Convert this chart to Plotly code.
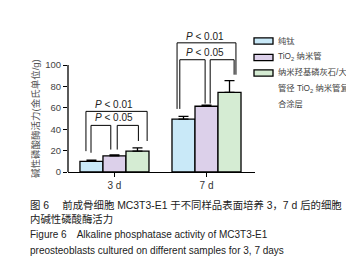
import plotly.graph_objects as go

# ---------------- data ----------------
categories = ["3 d", "7 d"]
series_names = ["纯钛", "TiO<sub>2</sub> 纳米管", "纳米羟基磷灰石/大<br>管径 TiO<sub>2</sub> 纳米管复<br>合涂层"]
ti_values = [10, 49.5]
ti_err = [1, 2.5]
tio2_values = [15, 61.5]
tio2_err = [1, 1]
composite_values = [19.5, 74.5]
composite_err = [3, 11]
y_ticks = [0, 20, 40, 60, 80, 100]

colors = ["#c9e9f8", "#dcd0ea", "#d5ecd3"]

# significance brackets: (x_left, x_right, y_top, y_left_end, y_right_end)
brackets = [
    (-0.31, 0.355, 56.7, 19.5, 29),
    (-0.255, -0.04, 43.6, 18, 21),
    (0.03, 0.26, 43.6, 21, 29),
    (0.68, 1.32, 120.8, 59, 91),
    (0.71, 0.985, 105, 59, 64),
    (1.04, 1.30, 105, 64, 91),
]
p_labels = [
    (0.0, 63.5, "<i>P</i> < 0.01"),
    (0.0, 51.0, "<i>P</i> < 0.05"),
    (0.985, 126.8, "<i>P</i> < 0.01"),
    (0.985, 111.9, "<i>P</i> < 0.05"),
]

FONT = "Liberation Sans, Arial, Noto Sans CJK SC, sans-serif"
CJK = "Liberation Sans, Noto Sans CJK SC, sans-serif"

W, H = 354, 263
x0_px, x1_px = 60, 247
y0_px, y1_px = 164, 25

fig = go.Figure()
for vals, errs, col, name in zip(
    [ti_values, tio2_values, composite_values],
    [ti_err, tio2_err, composite_err],
    colors, series_names):
    fig.add_trace(go.Bar(
        x=categories, y=vals, name=name,
        marker=dict(color=col, line=dict(color="black", width=1.3)),
        error_y=dict(type="data", symmetric=False, array=errs,
                     arrayminus=[0] * len(errs), color="black",
                     thickness=1.3, width=5),
        showlegend=False,
    ))

shapes = []
for xl, xr, yt, yle, yre in brackets:
    shapes.append(dict(type="path", xref="x", yref="y",
                       path=f"M {xl},{yle} L {xl},{yt} L {xr},{yt} L {xr},{yre}",
                       line=dict(color="black", width=1)))
# y axis line only from 0 to 100
shapes.append(dict(type="line", xref="paper", yref="y",
                   x0=x0_px / W, x1=x0_px / W, y0=0, y1=100,
                   line=dict(color="black", width=1.3)))

annotations = []
for x, y, t in p_labels:
    annotations.append(dict(x=x, y=y, xref="x", yref="y", text=t,
                            xanchor="center", yanchor="middle",
                            showarrow=False, font=dict(family=FONT, size=10, color="#222")))

# y axis title
annotations.append(dict(x=27 / W, y=(H - 111) / H, xref="paper", yref="paper",
                        xanchor="center", yanchor="middle",
                        text="碱性磷酸酶活力(金氏单位/g)", textangle=-90, showarrow=False,
                        font=dict(family=CJK, size=9.5, color="#555")))

# legend (manual)
leg_box_y = [33, 49.5, 65]
for col, yc in zip(colors, leg_box_y):
    shapes.append(dict(type="rect", xref="paper", yref="paper",
                       x0=246 / W, x1=265 / W, y0=(H - yc - 3.2) / H, y1=(H - yc + 3.2) / H,
                       fillcolor=col, line=dict(color="black", width=1.3)))
leg_lines = []
for name in series_names:
    leg_lines.extend(name.split("<br>"))
leg_line_y = [33, 48.5, 64, 80, 96]
for t, y in zip(leg_lines, leg_line_y):
    annotations.append(dict(x=268 / W, y=(H - y) / H, xref="paper", yref="paper",
                            text=t, showarrow=False, xanchor="left", yanchor="middle",
                            font=dict(family=CJK, size=8.3, color="#444")))

# caption
caption = [
    "图 6\u3000 前成骨细胞 MC3T3-E1 于不同样品表面培养 3，7 d 后的细胞",
    "内碱性磷酸酶活力",
    "Figure 6\u3000Alkaline phosphatase activity of MC3T3-E1",
    "preosteoblasts cultured on different samples for 3, 7 days",
]
cap_y = [197, 211, 227, 242]
cap_size = [10.4, 10.4, 10, 10]
for t, y, s in zip(caption, cap_y, cap_size):
    annotations.append(dict(x=20 / W, y=(H - y) / H, xref="paper", yref="paper",
                            text=t, showarrow=False, xanchor="left", yanchor="middle",
                            font=dict(family=FONT if t.startswith(("Fig", "pre")) else CJK,
                                      size=s, color="#222")))

fig.update_layout(
    template="none",
    width=W, height=H,
    margin=dict(l=0, r=0, t=0, b=0, autoexpand=False),
    paper_bgcolor="white", plot_bgcolor="white",
    barmode="group", bargap=0.25, bargroupgap=0,
    shapes=shapes, annotations=annotations,
    xaxis=dict(domain=[x0_px / W, x1_px / W], range=[-0.505, 1.527],
               showline=True, linecolor="black", linewidth=1.3,
               ticks="outside", ticklen=4, tickcolor="black", tickwidth=1,
               tickfont=dict(family=FONT, size=10, color="#333"),
               showgrid=False, zeroline=False, automargin=False),
    yaxis=dict(domain=[(H - y0_px) / H, (H - y1_px) / H], range=[0, 130],
               showline=False, tickmode="array", tickvals=y_ticks,
               ticktext=[str(v) for v in y_ticks], showticklabels=True,
               ticklabeloverflow="allow",
               ticks="outside", ticklen=4, tickcolor="black", tickwidth=1.3,
               tickfont=dict(family=FONT, size=9.5, color="#444"),
               showgrid=False, zeroline=False, automargin=False),
)

fig.write_html("out.html")
